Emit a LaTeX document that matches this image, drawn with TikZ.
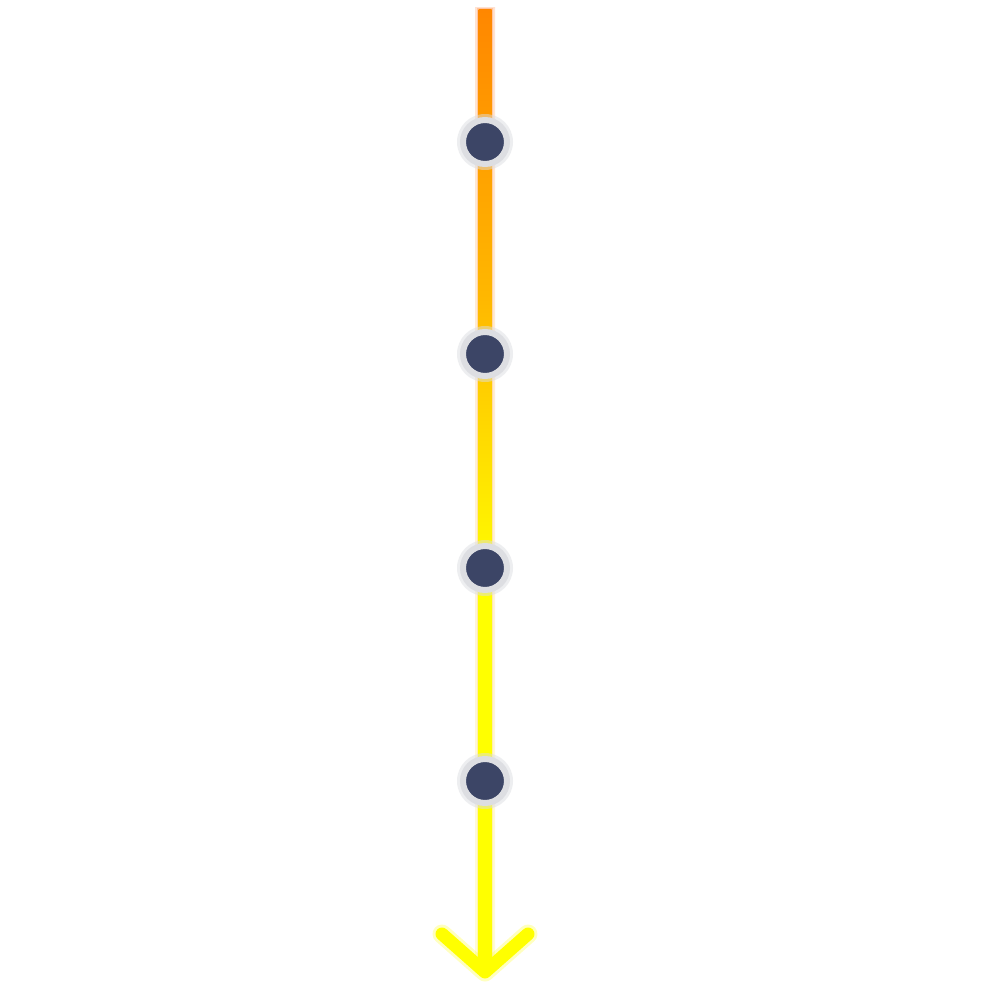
\documentclass[tikz,border=0pt]{standalone}
\usetikzlibrary{calc}
\definecolor{lineorange}{RGB}{255,136,0}
\definecolor{lineyellow}{RGB}{255,255,0}
\definecolor{ringgray}{RGB}{221,222,226}
\definecolor{dotnavy}{RGB}{60,69,102}
\pgfdeclareverticalshading{flowshade}{100bp}{
  rgb(0bp)=(1,1,0); rgb(25bp)=(1,1,0); rgb(45bp)=(1,1,0);
  rgb(60bp)=(1,0.72,0); rgb(75bp)=(1,0.53,0); rgb(100bp)=(1,0.53,0)}
\pgfdeclareverticalshading{glowshade}{100bp}{
  rgb(0bp)=(1,0.95,0.3); rgb(25bp)=(1,0.95,0.3); rgb(45bp)=(1,0.8,0.3);
  rgb(75bp)=(1,0.5,0.2); rgb(100bp)=(1,0.5,0.2)}
\tikzset{
  stage/.style={circle, fill=dotnavy, draw=ringgray, line width=6pt, minimum size=44pt, inner sep=0pt},
  chevron/.style={draw=lineyellow, line width=13pt, line cap=round, line join=round},
  glowline/.style={draw=lineyellow, line width=19pt, line cap=round, line join=round, opacity=0.25},
  haloring/.style={circle, fill=ringgray, opacity=0.5, minimum size=56pt, inner sep=0pt}
}
\begin{document}
\begin{tikzpicture}[x=1pt,y=-1pt]
\useasboundingbox[fill=white] (0,0) rectangle (994,992);
\coordinate (top) at (485,10);
\coordinate (tip) at (485,972);
\coordinate (wl) at (442,934);
\coordinate (wr) at (528,934);
% glow of the line
\shade[shading=glowshade, opacity=0.22]
  ($(top)+(-10,-2)$) rectangle ($(tip)+(10,-8)$);
\shade[shading=glowshade, opacity=0.3]
  ($(top)+(-8,-1)$) rectangle ($(tip)+(8,-8)$);
% main shaded line
\shade[shading=flowshade]
  ($(top)+(-6.5,0)$) rectangle ($(tip)+(6.5,-6)$);
% arrow head
\path[glowline] (wl) -- (tip) -- (wr);
\path[chevron] (wl) -- (tip) -- (wr);
% stages
\foreach \i/\y in {1/142,2/354,3/568,4/781}{
  \node[haloring] at (485,\y) {};
  \node[stage] (n\i) at (485,\y) {};
}
\end{tikzpicture}
\end{document}
